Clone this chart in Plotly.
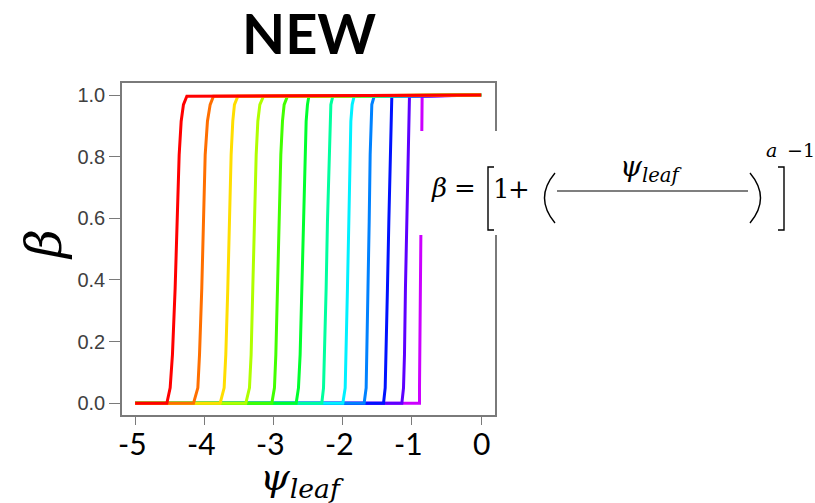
import plotly.graph_objects as go

# ---------------- data ----------------
beta_levels = [0.0, 0.0, 0.05, 0.158, 0.374, 0.59, 0.806, 0.915, 0.969, 0.996, 1.0]

psi_red = [-5, -4.542, -4.494, -4.461, -4.422, -4.398, -4.364, -4.335, -4.302, -4.253, 0]
psi_orange = [-5, -4.157, -4.094, -4.070, -4.037, -4.013, -3.988, -3.955, -3.916, -3.868, 0]
psi_yellow = [-5, -3.772, -3.714, -3.690, -3.661, -3.637, -3.613, -3.589, -3.565, -3.516, 0]
psi_yellowgreen = [-5, -3.401, -3.348, -3.324, -3.300, -3.276, -3.251, -3.227, -3.198, -3.145, 0]
psi_lime = [-5, -3.025, -2.987, -2.967, -2.943, -2.919, -2.895, -2.871, -2.847, -2.799, 0]
psi_green = [-5, -2.673, -2.640, -2.616, -2.591, -2.567, -2.543, -2.529, -2.510, -2.490, 0]
psi_spring = [-5, -2.303, -2.278, -2.264, -2.240, -2.221, -2.197, -2.182, -2.172, -2.144, 0]
psi_cyan = [-5, -1.999, -1.965, -1.951, -1.932, -1.912, -1.893, -1.883, -1.864, -1.835, 0]
psi_azure = [-5, -1.691, -1.662, -1.652, -1.633, -1.618, -1.604, -1.594, -1.580, -1.546, 0]
psi_blue = [-5, -1.411, -1.387, -1.373, -1.354, -1.334, -1.315, -1.305, -1.301, -1.291, 0]
psi_violet = [-5, -1.146, -1.122, -1.108, -1.094, -1.074, -1.060, -1.050, -1.045, -1.036, 0]
psi_purple = [-5, -0.891, -0.891, -0.887, -0.882, -0.877, -0.863, -0.857, -0.855, -0.853, 0]

curves = [psi_red, psi_orange, psi_yellow, psi_yellowgreen, psi_lime, psi_green,
          psi_spring, psi_cyan, psi_azure, psi_blue, psi_violet, psi_purple]
colors = ["#FF0000", "#FF6F00", "#FFDE00", "#B0FF00", "#41FF00", "#00FF2E",
          "#00FF9E", "#00F1FF", "#0082FF", "#0013FF", "#5D00FF", "#CC00FF"]

x_tickvals = [-5, -4, -3, -2, -1, 0]
x_ticktext = ["-5", "-4", "-3", "-2", "-1", "0"]
y_tickvals = [0.0, 0.2, 0.4, 0.6, 0.8, 1.0]
y_ticktext = ["0.0", "0.2", "0.4", "0.6", "0.8", "1.0"]

# ---------------- figure ----------------
W, H = 815, 503
L, R, T, B = 122, 320, 83, 88
PW, PH = W - L - R, H - T - B


def px(x):
    return (x - L) / PW


def py(y):
    return (H - B - y) / PH


fig = go.Figure()
# draw purple first, red last (red on top)
for xs, c in reversed(list(zip(curves, colors))):
    fig.add_trace(go.Scatter(x=xs, y=beta_levels, mode="lines",
                             line=dict(color=c, width=3), showlegend=False,
                             hoverinfo="skip"))

axis_gray = "#7a7a7a"
fig.update_layout(
    width=W, height=H,
    margin=dict(l=L, r=R, t=T, b=B, pad=0),
    paper_bgcolor="white", plot_bgcolor="white",
    showlegend=False,
    xaxis=dict(range=[-5.19, 0.2], tickvals=x_tickvals, showticklabels=False,
               showgrid=False, zeroline=False, showline=True, mirror=True,
               linecolor=axis_gray, linewidth=1.6,
               ticks="outside", ticklen=8, tickwidth=1.3, tickcolor=axis_gray),
    yaxis=dict(range=[-0.038, 1.039], tickvals=y_tickvals, ticktext=y_ticktext,
               showgrid=False, zeroline=False, showline=True, mirror=True,
               linecolor=axis_gray, linewidth=1.6,
               ticks="outside", ticklen=11, tickwidth=1.3, tickcolor=axis_gray,
               tickfont=dict(family="Liberation Sans", size=20, color="#404040")),
)

serif = "DejaVu Serif"
ann = []


def text(x, y, s, size, family=serif, color="black", angle=0, xanchor="center"):
    ann.append(dict(x=px(x), y=py(y), xref="paper", yref="paper", text=s,
                    showarrow=False, xanchor=xanchor, yanchor="middle",
                    textangle=angle, font=dict(family=family, size=size, color=color)))


# x tick labels (large, placed on the x axis scale)
for v, t in zip(x_tickvals, x_ticktext):
    ann.append(dict(x=v, y=py(443), xref="x", yref="paper", text=t,
                    showarrow=False, xanchor="center", yanchor="middle",
                    xshift=-3 if t.startswith("-") else 0,
                    font=dict(family="Lato", size=30, color="black")))

# title
text(308.5, 32, "<b>NEW</b>", 56, family="Lato")
# axis titles
text(302, 479, "<i>ψ</i><sub><i>leaf</i></sub>", 38)
text(44, 245, "<i>β</i>", 50, angle=-90)

# white box holding the formula
shapes = [dict(type="rect", xref="paper", yref="paper", layer="above",
               x0=px(416), x1=px(505), y0=py(235), y1=py(131),
               fillcolor="white", line=dict(width=0))]

# formula pieces
text(438.5, 188, "<i>β</i>", 26)
text(464.5, 188, "=", 26)
text(501, 189, "1", 26)
text(519, 189, "+", 26)
text(651, 168, "<i>ψ</i><sub><i>leaf</i></sub>", 28)
text(771, 150, "<i>a</i>", 19)
text(801, 150, "−1", 19)

lw = 1.4
# left bracket
shapes.append(dict(type="path", xref="paper", yref="paper", layer="above",
                   path=f"M {px(494)},{py(167)} L {px(488)},{py(167)} L {px(488)},{py(230)} L {px(494)},{py(230)}",
                   line=dict(color="black", width=lw)))
# right bracket
shapes.append(dict(type="path", xref="paper", yref="paper", layer="above",
                   path=f"M {px(778)},{py(167)} L {px(784)},{py(167)} L {px(784)},{py(230)} L {px(778)},{py(230)}",
                   line=dict(color="black", width=lw)))
# left parenthesis
shapes.append(dict(type="path", xref="paper", yref="paper", layer="above",
                   path=f"M {px(555)},{py(173)} Q {px(534)},{py(198)} {px(555)},{py(223)}",
                   line=dict(color="black", width=lw)))
# right parenthesis
shapes.append(dict(type="path", xref="paper", yref="paper", layer="above",
                   path=f"M {px(750)},{py(173)} Q {px(771)},{py(198)} {px(750)},{py(223)}",
                   line=dict(color="black", width=lw)))
# fraction bar
shapes.append(dict(type="line", xref="paper", yref="paper", layer="above",
                   x0=px(557), x1=px(748), y0=py(191), y1=py(191),
                   line=dict(color="black", width=1.2)))

fig.update_layout(annotations=ann, shapes=shapes)
fig.write_html("out.html", config={"displayModeBar": False},
               post_script="document.body.style.margin='0';document.body.style.overflow='hidden';")
